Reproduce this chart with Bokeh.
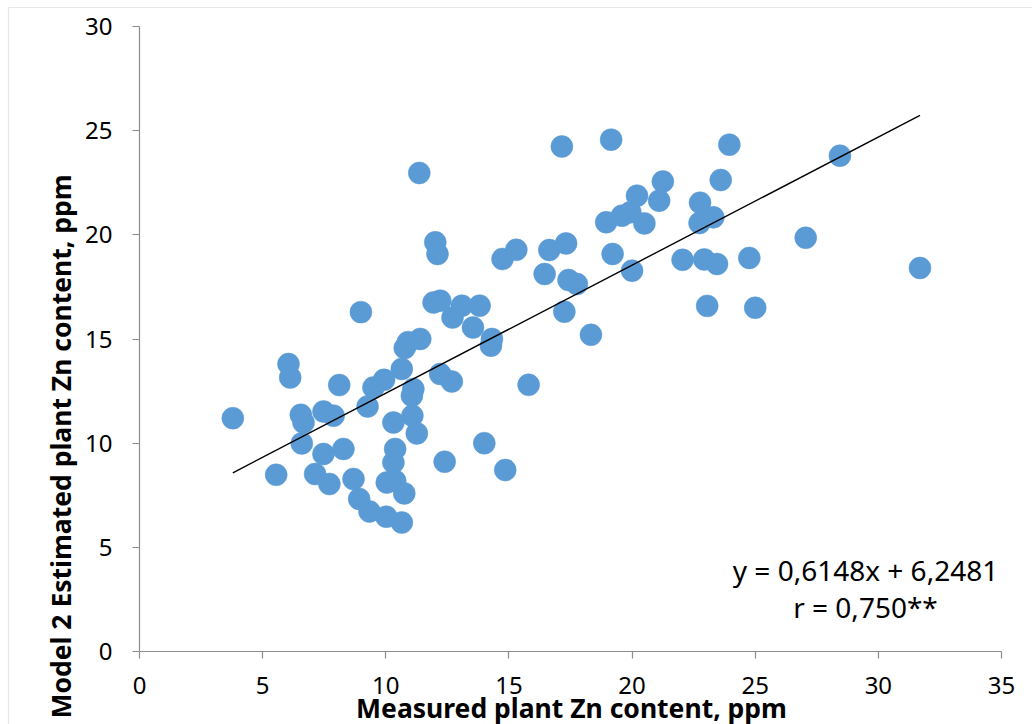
import numpy as np
from bokeh.plotting import figure
from bokeh.models import Range1d, FixedTicker, Label, PolyAnnotation, ColumnDataSource
from bokeh.embed import file_html
from bokeh.resources import INLINE

# Measured plant Zn content (ppm)
measured = [3.79, 5.55, 6.05, 6.12, 6.55, 6.66, 6.59, 7.13, 7.47, 7.47,
            7.88, 7.71, 8.11, 8.28, 8.69, 8.99, 8.92, 9.26, 9.34, 9.50,
            9.93, 10.04, 10.02, 10.31, 10.31, 10.38, 10.38, 10.65, 10.65, 10.75,
            10.77, 10.90, 11.12, 11.06, 11.08, 11.26, 11.36, 11.40, 12.01, 12.10,
            11.94, 12.21, 12.21, 12.39, 12.68, 12.71, 13.09, 13.54, 13.81, 14.00,
            14.27, 14.31, 14.85, 14.74, 15.30, 15.80, 16.45, 16.64, 17.15, 17.25,
            17.32, 17.42, 17.76, 18.33, 18.95, 19.15, 19.21, 19.59, 19.93, 20.00,
            20.20, 20.50, 21.10, 21.25, 22.05, 22.76, 22.74, 22.93, 23.05, 23.30,
            23.45, 23.60, 23.95, 24.76, 25.00, 27.05, 28.44, 31.69]
# Model 2 estimated plant Zn content (ppm)
estimated = [11.20, 8.48, 13.80, 13.15, 11.36, 10.99, 9.99, 8.52, 9.48, 11.52,
             11.32, 8.04, 12.79, 9.72, 8.28, 16.29, 7.32, 11.76, 6.72, 12.67,
             13.04, 8.11, 6.47, 9.07, 10.99, 9.72, 8.19, 13.56, 6.19, 7.59,
             14.57, 14.85, 12.60, 12.28, 11.32, 10.47, 22.97, 15.00, 19.64, 19.08,
             16.75, 16.84, 13.32, 9.11, 12.96, 16.03, 16.60, 15.55, 16.60, 10.00,
             14.68, 15.00, 8.71, 18.84, 19.28, 12.80, 18.12, 19.27, 24.24, 16.31,
             19.59, 17.83, 17.64, 15.20, 20.60, 24.57, 19.08, 20.92, 21.08, 18.28,
             21.88, 20.55, 21.64, 22.56, 18.80, 21.54, 20.57, 18.82, 16.59, 20.84,
             18.60, 22.63, 24.33, 18.89, 16.50, 19.86, 23.80, 18.41]

slope = 0.6148
intercept = 6.2481
eq_lines = ["y = 0,6148x + 6,2481", "r = 0,750**"]
x_title = "Measured plant Zn content, ppm"
y_title = "Model 2 Estimated plant Zn content, ppm"
x_ticks = [0, 5, 10, 15, 20, 25, 30, 35]
y_ticks = [0, 5, 10, 15, 20, 25, 30]
x_lim = (0, 35)
y_lim = (0, 30)

FONT = "Noto Sans"
W, H = 1032, 724
# pixel placement of the axes box inside the canvas
PX_LEFT, PX_RIGHT, PX_TOP, PX_BOTTOM = 139, 1001, 26, 651
kx = (PX_RIGHT - PX_LEFT) / (x_lim[1] - x_lim[0])
ky = (PX_BOTTOM - PX_TOP) / (y_lim[1] - y_lim[0])
xr = Range1d(x_lim[0] - PX_LEFT / kx, x_lim[1] + (W - PX_RIGHT) / kx)
yr = Range1d(y_lim[0] - (H - PX_BOTTOM) / ky, y_lim[1] + PX_TOP / ky)

p = figure(width=W, height=H, output_backend="svg", toolbar_location=None,
           x_range=xr, y_range=yr,
           min_border_left=0, min_border_right=0, min_border_top=0, min_border_bottom=0)
p.background_fill_color = "white"
p.border_fill_color = "white"
p.outline_line_color = None
p.xgrid.visible = False
p.ygrid.visible = False

for ax in (p.xaxis[0], p.yaxis[0]):
    ax.fixed_location = 0
    ax.axis_line_color = "#8c8c8c"
    ax.axis_line_width = 1.2
    ax.major_tick_line_color = "#8c8c8c"
    ax.major_tick_line_width = 1.2
    ax.major_tick_out = 7
    ax.major_tick_in = 0
    ax.minor_tick_line_color = None
    ax.major_label_text_font = FONT
    ax.major_label_text_font_size = "24px"
    ax.major_label_text_color = "black"

p.xaxis[0].bounds = x_lim
p.yaxis[0].bounds = y_lim
p.xaxis[0].ticker = FixedTicker(ticks=x_ticks)
p.yaxis[0].ticker = FixedTicker(ticks=y_ticks)
p.xaxis[0].major_label_standoff = 18
p.yaxis[0].major_label_standoff = 20

src = ColumnDataSource(dict(x=measured, y=estimated))
p.scatter("x", "y", source=src, size=22, fill_color="#5B9BD5", line_color="#5B9BD5", line_width=0.5)

xs = np.array([min(measured), max(measured)])
p.line(xs, slope * xs + intercept, line_color="black", line_width=1.4)

# texts placed in canvas pixels (screen units measured from bottom-left)
def lab(text, px, py, size, bold=False, angle=0.0, align="center", baseline="middle"):
    p.add_layout(Label(x=px, y=H - py, x_units="screen", y_units="screen", text=text,
                       text_font=FONT, text_font_size=size,
                       text_font_style="bold" if bold else "normal",
                       text_align=align, text_baseline=baseline, angle=angle,
                       text_color="black"))

lab(eq_lines[0], 865, 569, "28px")
lab(eq_lines[1], 865, 606, "28px")
lab(x_title, 571, 707, "26.5px", bold=True)
lab(y_title, 60, 446, "26.5px", bold=True, angle=np.pi / 2)

# outer chart-area border (left and top edges visible)
p.add_layout(PolyAnnotation(xs=[8, 8, 1100, 1100], ys=[-50, H - 7, H - 7, -50],
                            xs_units="screen", ys_units="screen",
                            fill_color=None, line_color="#b4b4b4", line_width=1.2))

open("out.html", "w").write(file_html(p, INLINE))
